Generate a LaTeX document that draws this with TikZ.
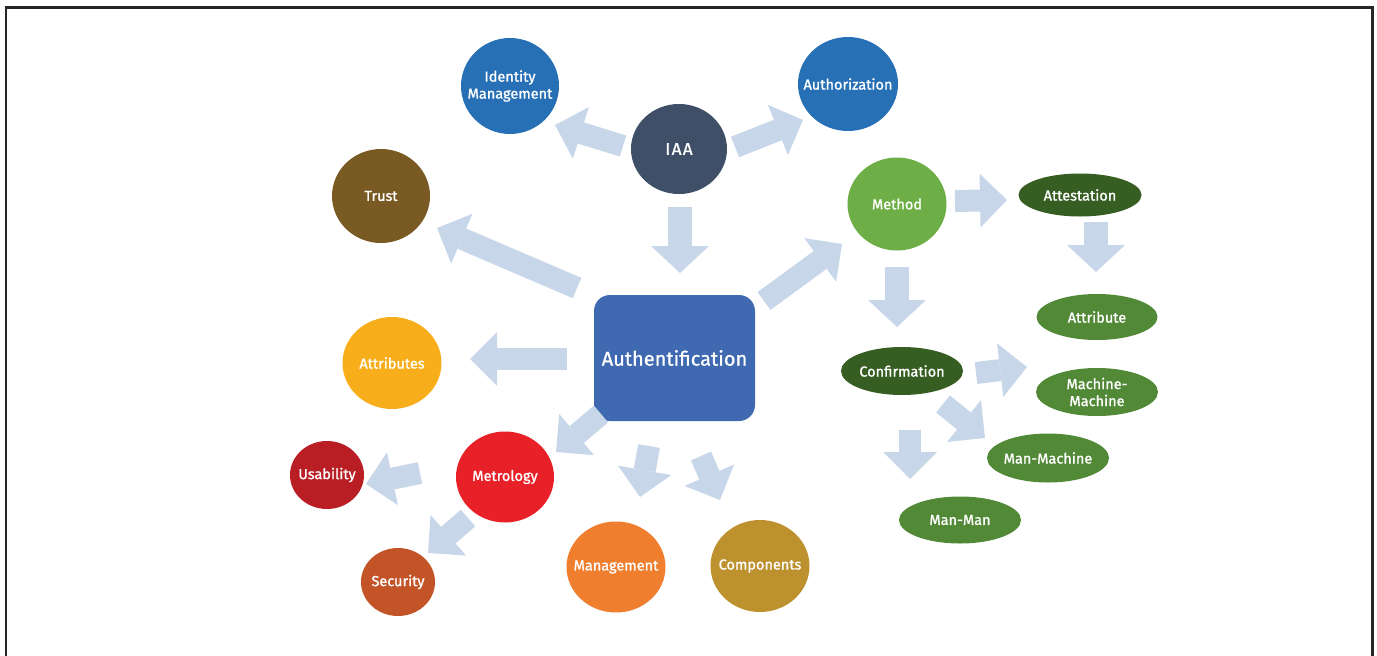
\documentclass[tikz,border=0pt]{standalone}
\usepackage{fontspec}
\setmainfont{Fira Sans}
\usetikzlibrary{shapes.geometric,arrows.meta}

\definecolor{flow}{HTML}{C8D6E9}
\definecolor{framecol}{HTML}{262626}
\definecolor{slate}{HTML}{3E4F67}
\definecolor{ocean}{HTML}{2770B6}
\definecolor{authblue}{HTML}{3F69B1}
\definecolor{trustbrown}{HTML}{7A5A23}
\definecolor{amber}{HTML}{F8AE1B}
\definecolor{leaf}{HTML}{6DAE46}
\definecolor{forest}{HTML}{375E22}
\definecolor{moss}{HTML}{528937}
\definecolor{crimson}{HTML}{B91E24}
\definecolor{scarlet}{HTML}{E82027}
\definecolor{rust}{HTML}{C25428}
\definecolor{tangerine}{HTML}{EF7F2F}
\definecolor{ochre}{HTML}{BE912F}

\begin{document}
\begin{tikzpicture}[x=1pt,y=-1pt,
  labeltext/.style={text=white,font=\fontsize{14.5}{17}\selectfont\addfontfeature{FakeBold=1.2},
    align=center,inner sep=0pt},
  bubble/.style={ellipse,inner sep=0pt,draw=none},
  flowarrow/.style={draw=flow,line width=22pt,
    -{Triangle[width=54pt,length=27pt,line width=0pt]}},
  flowwide/.style={draw=flow,line width=24pt,
    -{Triangle[width=58pt,length=27pt,line width=0pt]}},
]
\useasboundingbox (0,0) rectangle (1377,656);
\clip (0,0) rectangle (1377,656);

% outer frame
\draw[framecol,line width=2.5pt] (6,7.5) rectangle (1372.5,700);

% central box
\node[rectangle,rounded corners=16pt,fill=authblue,minimum width=161pt,minimum height=126pt,
  inner sep=0pt,text=white,font=\fontsize{20}{24}\selectfont\addfontfeature{FakeBold=0.8}] (auth) at (674.5,358) {Authentification};

% IAA group
\node[bubble,fill=slate,minimum width=96pt,minimum height=90pt,
  label={[labeltext,font=\fontsize{17}{20}\selectfont\addfontfeature{FakeBold=1.2,LetterSpace=8}]center:IAA}] (iaa) at (679,149) {};
\node[bubble,fill=ocean,minimum width=98pt,minimum height=96pt,
  label={[labeltext]center:{Identity\\Management}}] (idm) at (510,86) {};
\node[bubble,fill=ocean,minimum width=100pt,minimum height=94pt,
  label={[labeltext]center:Authorization}] (authz) at (848,84) {};

% left side
\node[bubble,fill=trustbrown,minimum width=98pt,minimum height=94pt,
  label={[labeltext]center:Trust}] (trust) at (381,196) {};
\node[bubble,fill=amber,minimum width=99pt,minimum height=92pt,
  label={[labeltext]center:Attributes}] (attrs) at (392,363) {};

% metrology branch
\node[bubble,fill=scarlet,minimum width=98pt,minimum height=91pt,
  label={[labeltext]center:Metrology}] (metro) at (505,477) {};
\node[bubble,fill=crimson,minimum width=74pt,minimum height=68pt,
  label={[labeltext]center:Usability}] (usab) at (327,475) {};
\node[bubble,fill=rust,minimum width=74pt,minimum height=68pt,
  label={[labeltext]center:Security}] (secu) at (398,582) {};

% bottom
\node[bubble,fill=tangerine,minimum width=99pt,minimum height=91pt,
  label={[labeltext]center:Management}] (mgmt) at (616,567) {};
\node[bubble,fill=ochre,minimum width=99pt,minimum height=92pt,
  label={[labeltext]center:Components}] (comp) at (760,566) {};

% method branch
\node[bubble,fill=leaf,minimum width=99pt,minimum height=93pt,
  label={[labeltext]center:Method}] (method) at (897,204) {};
\node[bubble,fill=forest,minimum width=123pt,minimum height=43pt,
  label={[labeltext]center:Attestation}] (attest) at (1080,195) {};
\node[bubble,fill=moss,minimum width=121pt,minimum height=46pt,
  label={[labeltext]center:Attribute}] (attrib) at (1097,317) {};
\node[bubble,fill=forest,minimum width=122pt,minimum height=48pt,
  label={[labeltext]center:Confirmation}] (confirm) at (902,371) {};
\node[bubble,fill=moss,minimum width=122pt,minimum height=48pt,
  label={[labeltext]center:{Machine-\\Machine}}] (mm) at (1097,392) {};
\node[bubble,fill=moss,minimum width=122pt,minimum height=49pt,
  label={[labeltext]center:Man-Machine}] (manm) at (1048,458) {};
\node[bubble,fill=moss,minimum width=122pt,minimum height=47pt,
  label={[labeltext]center:Man-Man}] (manman) at (960,520) {};

% arrow ends
\coordinate (iaa-idm-s) at (623,146);    \coordinate (iaa-idm-e) at (555,125);
\coordinate (iaa-authz-s) at (735,147);  \coordinate (iaa-authz-e) at (803,120);
\coordinate (iaa-auth-s) at (680,207);   \coordinate (iaa-auth-e) at (680,273);
\coordinate (auth-trust-s) at (577,288); \coordinate (auth-trust-e) at (437,228);
\coordinate (auth-attrs-s) at (567,359); \coordinate (auth-attrs-e) at (470,359);
\coordinate (auth-method-s) at (764,301);\coordinate (auth-method-e) at (842,244);
\coordinate (auth-metro-s) at (601,414); \coordinate (auth-metro-e) at (556,452);
\coordinate (auth-mgmt-s) at (649,446);  \coordinate (auth-mgmt-e) at (640,497);
\coordinate (auth-comp-s) at (701,456);  \coordinate (auth-comp-e) at (720,500);
\coordinate (metro-usab-s) at (420,473); \coordinate (metro-usab-e) at (366,484);
\coordinate (metro-secu-s) at (468,518); \coordinate (metro-secu-e) at (428,553);
\coordinate (method-attest-s) at (955,201); \coordinate (method-attest-e) at (1007,200);
\coordinate (attest-attrib-s) at (1096,222); \coordinate (attest-attrib-e) at (1096,272);
\coordinate (method-confirm-s) at (897,267); \coordinate (method-confirm-e) at (897,327);
\coordinate (confirm-mm-s) at (976,373);  \coordinate (confirm-mm-e) at (1027,367);
\coordinate (confirm-manm-s) at (943,404);\coordinate (confirm-manm-e) at (985,438);
\coordinate (confirm-manman-s) at (910,430); \coordinate (confirm-manman-e) at (910,479);

% block arrows
\draw[flowarrow] (iaa-idm-s) -- (iaa-idm-e);
\draw[flowarrow] (iaa-authz-s) -- (iaa-authz-e);
\draw[flowwide] (iaa-auth-s) -- (iaa-auth-e);
\draw[flowarrow] (auth-trust-s) -- (auth-trust-e);
\draw[flowarrow] (auth-attrs-s) -- (auth-attrs-e);
\draw[flowarrow] (auth-method-s) -- (auth-method-e);
\draw[flowarrow] (auth-metro-s) -- (auth-metro-e);
\draw[flowarrow] (auth-mgmt-s) -- (auth-mgmt-e);
\draw[flowarrow] (auth-comp-s) -- (auth-comp-e);
\draw[flowarrow] (metro-usab-s) -- (metro-usab-e);
\draw[flowarrow] (metro-secu-s) -- (metro-secu-e);
\draw[flowarrow] (method-attest-s) -- (method-attest-e);
\draw[flowwide] (attest-attrib-s) -- (attest-attrib-e);
\draw[flowwide] (method-confirm-s) -- (method-confirm-e);
\draw[flowarrow] (confirm-mm-s) -- (confirm-mm-e);
\draw[flowarrow] (confirm-manm-s) -- (confirm-manm-e);
\draw[flowarrow] (confirm-manman-s) -- (confirm-manman-e);
\end{tikzpicture}
\end{document}
